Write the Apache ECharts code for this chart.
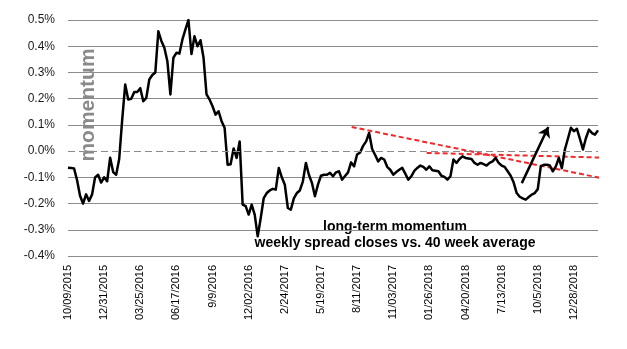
<!DOCTYPE html>
<html>
<head>
<meta charset="utf-8">
<script src="https://cdn.jsdelivr.net/npm/echarts@6/dist/echarts.min.js"></script>
<style>
  html, body { margin: 0; padding: 0; background: #fff; }
  #chart { width: 627px; height: 349px; }
</style>
</head>
<body>
<div id="chart"></div>
<script>
// Weekly spread momentum (% spread close vs. 40-week average), one value per week from 10/09/2015
const momentum = [
  -0.063, -0.064, -0.066, -0.11, -0.17, -0.20, -0.165, -0.19, -0.165, -0.10,
  -0.09, -0.12, -0.10, -0.115, -0.025, -0.08, -0.09, -0.03, 0.12, 0.254,
  0.197, 0.20, 0.225, 0.225, 0.24, 0.19, 0.203, 0.273, 0.29, 0.30,
  0.457, 0.42, 0.394, 0.343, 0.216, 0.356, 0.375, 0.372, 0.426, 0.464,
  0.50, 0.37, 0.438, 0.40, 0.423, 0.357, 0.216, 0.197, 0.171, 0.139,
  0.152, 0.114, 0.089, -0.052, -0.05, 0.01, -0.026, 0.037, -0.204, -0.21,
  -0.242, -0.204, -0.242, -0.325, -0.255, -0.179, -0.16, -0.15, -0.144, -0.147,
  -0.064, -0.10, -0.128, -0.217, -0.223, -0.18, -0.16, -0.15, -0.115, -0.045,
  -0.09, -0.121, -0.172, -0.128, -0.094, -0.09, -0.09, -0.083, -0.096, -0.081,
  -0.077, -0.109, -0.095, -0.081, -0.043, -0.058, -0.013, -0.005, 0.02, 0.037,
  0.069, 0.008, -0.015, -0.039, -0.026, -0.032, -0.06, -0.071, -0.09, -0.08,
  -0.071, -0.064, -0.086, -0.109, -0.096, -0.075, -0.064, -0.055, -0.06, -0.071,
  -0.058, -0.073, -0.075, -0.077, -0.094, -0.098, -0.109, -0.096, -0.032, -0.045,
  -0.03, -0.02, -0.026, -0.028, -0.03, -0.045, -0.052, -0.045, -0.05, -0.055,
  -0.045, -0.039, -0.026, -0.045, -0.055, -0.06, -0.077, -0.094, -0.12, -0.16,
  -0.174, -0.18, -0.185, -0.175, -0.166, -0.16, -0.145, -0.058, -0.052, -0.052,
  -0.055, -0.077, -0.058, -0.026, -0.065, 0.006, 0.047, 0.089, 0.076, 0.085,
  0.047, 0.006, 0.05, 0.082, 0.069, 0.063, 0.079
];

// Date labels shown every 12 weeks
const tickLabels = [
  '10/09/2015', '12/31/2015', '03/25/2016', '06/17/2016', '9/9/2016',
  '12/02/2016', '2/24/2017', '5/19/2017', '8/11/2017', '11/03/2017',
  '01/26/2018', '04/20/2018', '7/13/2018', '10/5/2018', '12/28/2018'
];
const labelEvery = 12;

// Trend annotations as [week index, value %]
const upperTrend = [[94.2, 0.092], [176.7, -0.102]];
const lowerTrend = [[119.1, -0.007], [181.7, -0.026]];
const breakoutArrow = [[150.7, -0.122], [159.5, 0.092]];

const lineData = momentum.map((v, i) => [i, v]);
const lastIndex = momentum.length - 1;

const gridColor = '#8c8c8c';
// The zero line is drawn dashed separately, so its split line is hidden
const splitColors = [gridColor, gridColor, gridColor, gridColor, 'rgba(0,0,0,0)',
                     gridColor, gridColor, gridColor, gridColor, gridColor];

const chart = echarts.init(document.getElementById('chart'), null, { renderer: 'canvas' });

const redDash = {
  type: 'line',
  symbol: 'none',
  clip: false,
  silent: true,
  z: 3,
  lineStyle: { color: '#f02a2a', width: 2, type: [5, 3] }
};

chart.setOption({
  animation: false,
  grid: { left: 68, right: 29, top: 20, bottom: 93, containLabel: false },
  xAxis: {
    type: 'value',
    min: 0,
    max: lastIndex,
    interval: labelEvery,
    axisLine: { show: false },
    axisTick: { show: false },
    splitLine: { show: false },
    axisLabel: {
      rotate: 90,
      margin: 9,
      fontFamily: 'Liberation Sans',
      fontSize: 11,
      color: '#000',
      showMaxLabel: false,
      formatter: function (v) {
        if (v % labelEvery !== 0) return '';
        const k = v / labelEvery;
        return tickLabels[k] || '';
      }
    }
  },
  yAxis: {
    type: 'value',
    min: -0.4,
    max: 0.5,
    interval: 0.1,
    axisLine: { show: false },
    axisTick: { show: false },
    splitLine: { show: true, lineStyle: { color: splitColors, width: 1 } },
    axisLabel: {
      margin: 13,
      fontFamily: 'Liberation Sans',
      fontSize: 12,
      color: '#1a1a1a',
      formatter: function (v) { return v.toFixed(1) + '%'; }
    }
  },
  series: [
    {
      type: 'line',
      data: lineData,
      symbol: 'none',
      z: 4,
      lineStyle: { color: '#000', width: 2.5, join: 'round' },
      markLine: {
        silent: true,
        animation: false,
        symbol: 'none',
        label: { show: false },
        data: [
          {
            yAxis: 0,
            lineStyle: { color: gridColor, width: 1, type: [7, 4] }
          },
          [
            { coord: breakoutArrow[0], symbol: 'none' },
            { coord: breakoutArrow[1], symbol: 'arrow', symbolSize: 10 }
          ]
        ],
        lineStyle: { color: '#000', width: 2.5, type: 'solid' }
      }
    },
    Object.assign({ data: upperTrend }, redDash),
    Object.assign({ data: lowerTrend }, redDash)
  ],
  graphic: [
    {
      type: 'text',
      x: 88,
      y: 105,
      rotation: Math.PI / 2,
      style: {
        text: 'momentum',
        fill: '#8a8a8a',
        font: 'bold 21px "Liberation Sans"',
        align: 'center',
        verticalAlign: 'middle'
      }
    },
    {
      type: 'text',
      x: 395,
      y: 227,
      style: {
        text: 'long-term momentum',
        fill: '#000',
        font: 'bold 14px "Liberation Sans"',
        align: 'center',
        verticalAlign: 'middle'
      }
    },
    {
      type: 'text',
      x: 395,
      y: 243,
      style: {
        text: 'weekly spread closes vs. 40 week average',
        fill: '#000',
        font: 'bold 14px "Liberation Sans"',
        align: 'center',
        verticalAlign: 'middle'
      }
    }
  ]
});
</script>
</body>
</html>
